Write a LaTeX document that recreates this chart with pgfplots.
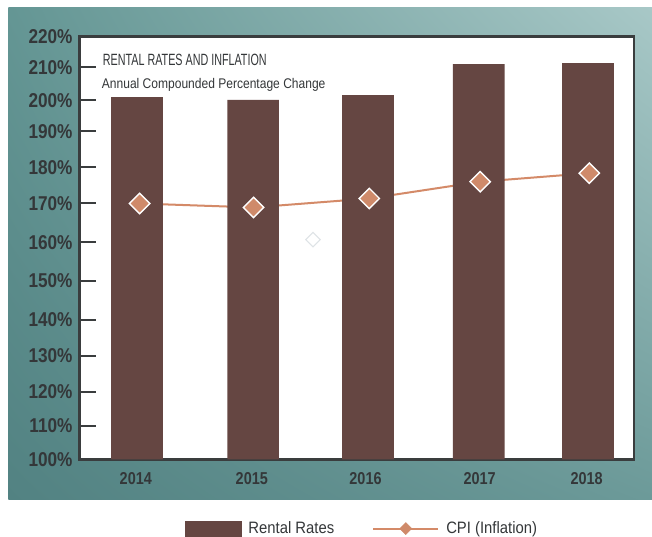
\documentclass[border=0pt]{standalone}
\usepackage{fontspec}
\setmainfont{Liberation Sans}
\usepackage{pgfplots}
\usepackage{pgfplotstable}
\usetikzlibrary{shadings}
\pgfplotsset{compat=1.18}
\newfontfamily\yfont[FakeStretch=0.86]{Liberation Sans}
\newfontfamily\xfont[FakeStretch=0.84]{Liberation Sans}
\newfontfamily\titlefont[FakeStretch=0.66]{Liberation Sans}
\newfontfamily\subfont[FakeStretch=0.86]{Liberation Sans}
\newfontfamily\legfont[FakeStretch=0.9]{Liberation Sans}

\definecolor{barbrown}{RGB}{101,70,66}
\definecolor{cpiline}{RGB}{212,138,104}
\definecolor{cpifill}{RGB}{207,138,106}
\definecolor{axisgray}{RGB}{58,61,62}
\definecolor{labelgray}{RGB}{52,55,57}
\definecolor{tUL}{RGB}{100,150,148}
\definecolor{tUR}{RGB}{168,200,199}
\definecolor{tLL}{RGB}{82,130,130}
\definecolor{tLR}{RGB}{108,154,153}
\definecolor{faint}{RGB}{222,227,230}

\pgfplotstableread{
x y
137.0 200.9
253.1 200.1
367.9 201.5
478.8 211.0
588.0 211.3
}\rentdata
\pgfplotstableread{
x y
139.6 169.9
253.6 168.9
369.3 171.3
480.2 176.0
589.3 178.4
}\cpidata

\begin{document}
\begin{tikzpicture}
\useasboundingbox (0,0) rectangle (652bp,537bp);
\fill[white] (0,0) rectangle (652bp,537bp);
\shade[upper left=tUL, upper right=tUR, lower left=tLL, lower right=tLR] (8.3bp,37.7bp) rectangle (652bp,529.7bp);
\begin{axis}[
  at={(79.7bp,77.7bp)}, anchor=south west,
  scale only axis, width=554.3bp, height=422.6bp,
  xmin=79.7, xmax=634, ymin=100, ymax=220,
  y coord trafo/.code={\pgfmathparse{3.33*min(max(#1-100,0),10)+3.40*min(max(#1-110,0),10)+3.60*min(max(#1-120,0),10)+3.60*min(max(#1-130,0),10)+3.93*min(max(#1-140,0),10)+3.84*min(max(#1-150,0),10)+3.93*min(max(#1-160,0),10)+3.57*min(max(#1-170,0),10)+3.63*min(max(#1-180,0),10)+3.10*min(max(#1-190,0),10)+3.30*min(max(#1-200,0),10)+3.05*min(max(#1-210,0),10)}},
  axis background/.style={fill=white},
  axis line style={line width=2.5bp, draw=axisgray},
  ytick={100,110,120,130,140,150,160,170,180,190,200,210,220},
  yticklabels={100\%,110\%,120\%,130\%,140\%,150\%,160\%,170\%,180\%,190\%,200\%,210\%,220\%},
  ytick pos=left, tick align=inside, major tick length=16bp,
  ytick style={line width=2bp, draw=axisgray},
  yticklabel style={font=\yfont\bfseries\fontsize{20bp}{24bp}\selectfont, text=labelgray, anchor=east, inner sep=0pt, xshift=-7bp},
  xtick={135.8,251.8,365.5,479.6,586.7},
  xticklabels={2014,2015,2016,2017,2018},
  xtick style={draw=none},
  xticklabel style={font=\xfont\bfseries\fontsize{17.2bp}{20bp}\selectfont, text=labelgray, anchor=north, inner sep=0pt, yshift=-12.5bp},
  legend columns=2, legend cell align=left,
  legend style={at={(0.190,-0.165)}, anchor=west, draw=none, fill=none, inner sep=0pt, outer sep=0pt,
    font=\legfont\fontsize{16.5bp}{19bp}\selectfont, text=labelgray,
    nodes={inner sep=0pt},
    /tikz/every odd column/.append style={column sep=7bp},
    /tikz/every even column/.append style={column sep=38bp}},
]
\addlegendimage{legend image code/.code={\fill[barbrown] (0bp,-8bp) rectangle (56bp,7bp);}}
\addlegendentry{Rental Rates}
\addlegendimage{legend image code/.code={\draw[cpiline, line width=2bp] (0bp,0bp) -- (65bp,0bp); \fill[cpifill] (32.5bp,-6bp) -- (38.5bp,0bp) -- (32.5bp,6bp) -- (26.5bp,0bp) -- cycle;}}
\addlegendentry{CPI (Inflation)}
\addplot[forget plot, cpiline, line width=2bp, no markers] table[x=x,y=y]{\cpidata};
\addplot[forget plot, ybar, bar width=51.7bp, bar shift=0pt, fill=barbrown, draw=none] table[x=x,y=y]{\rentdata};
\addplot[forget plot, only marks, mark=square*, mark size=7.2bp, mark options={rotate=45, fill=cpifill, draw=white, line width=1.4bp}] table[x=x,y=y]{\cpidata};
\addplot[forget plot, only marks, mark=square, mark size=5.1bp, mark options={rotate=45, draw=faint, line width=1bp}] coordinates {(313,160.7)};
\end{axis}
\node[anchor=base west, inner sep=0pt, text=labelgray, font=\titlefont\fontsize{16.3bp}{18bp}\selectfont] at (102.7bp,471bp) {RENTAL RATES AND INFLATION};
\node[anchor=base west, inner sep=0pt, text=labelgray, font=\subfont\fontsize{14bp}{16bp}\selectfont] at (101.7bp,448.7bp) {Annual Compounded Percentage Change};
\end{tikzpicture}
\end{document}
